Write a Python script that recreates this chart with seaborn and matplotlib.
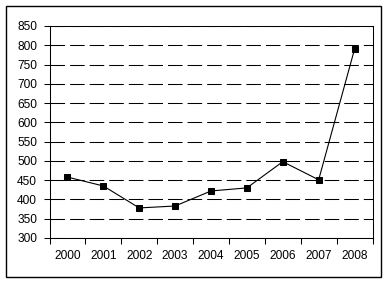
import matplotlib
matplotlib.use("Agg")
import matplotlib.pyplot as plt
import seaborn as sns
import pandas as pd
import numpy as np
from matplotlib.patches import Rectangle
from matplotlib.ticker import FixedLocator, NullFormatter

years = ["2000", "2001", "2002", "2003", "2004", "2005", "2006", "2007", "2008"]
values = [458, 435, 378, 383, 422, 430, 498, 451, 790]
y_ticks = [300, 350, 400, 450, 500, 550, 600, 650, 700, 750, 800, 850]

sns.set_style("white")
plt.rcParams["font.family"] = ["Liberation Sans", "DejaVu Sans"]
plt.rcParams["lines.scale_dashes"] = False

W, H = 388, 284
fig = plt.figure(figsize=(W / 100, H / 100), dpi=100)
fig.patch.set_facecolor("white")

left, right, top, bottom = 49.5, 372.5, 26, 238
ax = fig.add_axes([left / W, (H - bottom) / H, (right - left) / W, (bottom - top) / H])

df = pd.DataFrame({"year": years, "value": values})
sns.lineplot(data=df, x="year", y="value", ax=ax, color="black", linewidth=0.8,
             marker="s", markersize=4.5, markeredgecolor="black",
             markerfacecolor="black", sort=False)

ax.set_xlim(-0.5, len(years) - 0.5)
ax.set_ylim(y_ticks[0], y_ticks[-1])
ax.set_yticks(y_ticks)
ax.set_yticklabels([str(t) for t in y_ticks])
ax.set_xticks(range(len(years)))
ax.set_xticklabels(years)
ax.xaxis.set_minor_locator(FixedLocator(np.arange(-0.5, len(years), 1.0)))
ax.xaxis.set_minor_formatter(NullFormatter())
ax.tick_params(axis="x", which="major", length=0, pad=8.5, labelsize=8.6, colors="black")
ax.tick_params(axis="x", which="minor", length=4.5, width=0.75, direction="out",
               color="black", bottom=True)
ax.tick_params(axis="y", which="major", length=4, width=0.75, direction="out",
               pad=5, labelsize=8.6, colors="black", left=True)
ax.set_xlabel("")
ax.set_ylabel("")
ax.yaxis.grid(True, color="black", linewidth=0.75, linestyle=(0, (10.5, 3.6)))
ax.xaxis.grid(False)
ax.set_axisbelow(True)
for s in ax.spines.values():
    s.set_visible(True)
    s.set_color("black")
    s.set_linewidth(0.75)

# outer chart border
fig.patches.append(Rectangle((5.5 / W, (H - 277) / H), (381 - 5.5) / W, (277 - 5.5) / H,
                             transform=fig.transFigure, fill=False,
                             edgecolor="black", linewidth=1.0))

fig.savefig("out.png", dpi=100, facecolor="white")
